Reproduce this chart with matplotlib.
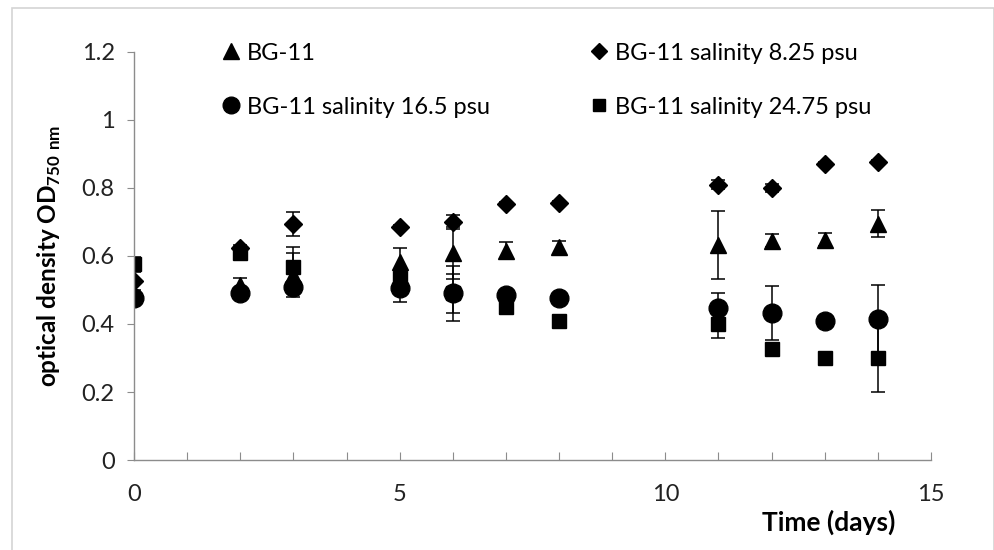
import matplotlib.pyplot as plt
from matplotlib.patches import Rectangle
from matplotlib.lines import Line2D

days = [0, 2, 3, 5, 6, 7, 8, 11, 12, 13, 14]

# BG-11 (triangles)
bg11 = [0.49, 0.515, 0.545, 0.583, 0.608, 0.615, 0.625, 0.632, 0.645, 0.648, 0.695]
bg11_err = [0.01, 0.02, 0.065, 0.04, 0.076, 0.025, 0.02, 0.10, 0.02, 0.02, 0.04]

# salinity 8.25 psu (diamonds)
sal825 = [0.525, 0.623, 0.693, 0.686, 0.70, 0.753, 0.756, 0.81, 0.80, 0.87, 0.876]
sal825_err = [0.005, 0.01, 0.035, 0.005, 0.02, 0.005, 0.005, 0.012, 0.012, 0.005, 0.005]

# salinity 16.5 psu (circles)
sal165 = [0.476, 0.49, 0.51, 0.505, 0.49, 0.485, 0.475, 0.448, 0.432, 0.41, 0.415]
sal165_err = [0.01, 0.01, 0.01, 0.04, 0.08, 0.01, 0.01, 0.042, 0.08, 0.01, 0.10]

# salinity 24.75 psu (squares)
sal2475 = [0.576, 0.608, 0.567, 0.535, 0.49, 0.45, 0.41, 0.40, 0.327, 0.30, 0.30]
sal2475_err = [0.022, 0.01, 0.06, 0.025, 0.058, 0.01, 0.01, 0.04, 0.01, 0.01, 0.10]

labels = ['BG-11', 'BG-11 salinity 8.25 psu', 'BG-11 salinity 16.5 psu',
          'BG-11 salinity 24.75 psu']

plt.rcParams['font.family'] = ['Lato', 'DejaVu Sans']
plt.rcParams['mathtext.fontset'] = 'custom'
plt.rcParams['mathtext.rm'] = 'Lato'
plt.rcParams['mathtext.bf'] = 'Lato:bold'

fig = plt.figure(figsize=(9.95, 5.5), dpi=100)
ax = fig.add_axes([0.1347, 0.1636, 0.801, 0.742])

# gray chart border
fig.patches.append(Rectangle((12 / 995, -0.01), 982 / 995, 1 - 8 / 550 + 0.01,
                             transform=fig.transFigure, fill=False,
                             edgecolor='#d4d4d4', linewidth=1.2))

common = dict(color='black', ecolor='black', elinewidth=1.1, capsize=5,
              capthick=1.1, linestyle='none')
ax.errorbar(days, bg11, yerr=bg11_err, fmt='^', ms=12, **common)
ax.errorbar(days, sal825, yerr=sal825_err, fmt='D', ms=9.5, **common)
ax.errorbar(days, sal165, yerr=sal165_err, fmt='o', ms=13.5, **common)
ax.errorbar(days, sal2475, yerr=sal2475_err, fmt='s', ms=9.5, **common)

ax.set_xlim(0, 15)
ax.set_ylim(0, 1.2)
ax.set_xticks(range(0, 16))
ax.set_xticklabels(['0', '', '', '', '', '5', '', '', '', '', '10', '', '', '', '', '15'])
ax.set_yticks([0, 0.2, 0.4, 0.6, 0.8, 1.0, 1.2])
ax.set_yticklabels(['0', '0.2', '0.4', '0.6', '0.8', '1', '1.2'])

for side in ['top', 'right']:
    ax.spines[side].set_visible(False)
for side in ['left', 'bottom']:
    ax.spines[side].set_color('#8c8c8c')
    ax.spines[side].set_linewidth(1.0)

ax.tick_params(axis='x', direction='in', length=6, color='#8c8c8c',
               labelsize=17, labelcolor='#222222', pad=17)
ax.tick_params(axis='y', direction='out', length=5, color='#8c8c8c',
               labelsize=17, labelcolor='#222222', pad=9)

ax.set_ylabel('optical density OD$_{\\mathbf{750\\ nm}}$', fontsize=17.5,
              fontweight='bold', labelpad=13)
fig.text(0.833, 0.05, 'Time (days)', fontsize=19, fontweight='bold',
         ha='center', va='center')

handles = [Line2D([], [], color='black', marker=m, ms=s, linestyle='none')
           for m, s in [('^', 11), ('o', 12), ('D', 8), ('s', 9)]]
leg = ax.legend(handles=handles, labels=[labels[0], labels[2], labels[1], labels[3]],
                ncol=2, frameon=False, loc='upper left',
                bbox_to_anchor=(0.085, 1.075), fontsize=17,
                handlelength=0.7, handletextpad=0.3, columnspacing=4.3,
                labelspacing=1.4)

fig.savefig('out.png', dpi=100)
